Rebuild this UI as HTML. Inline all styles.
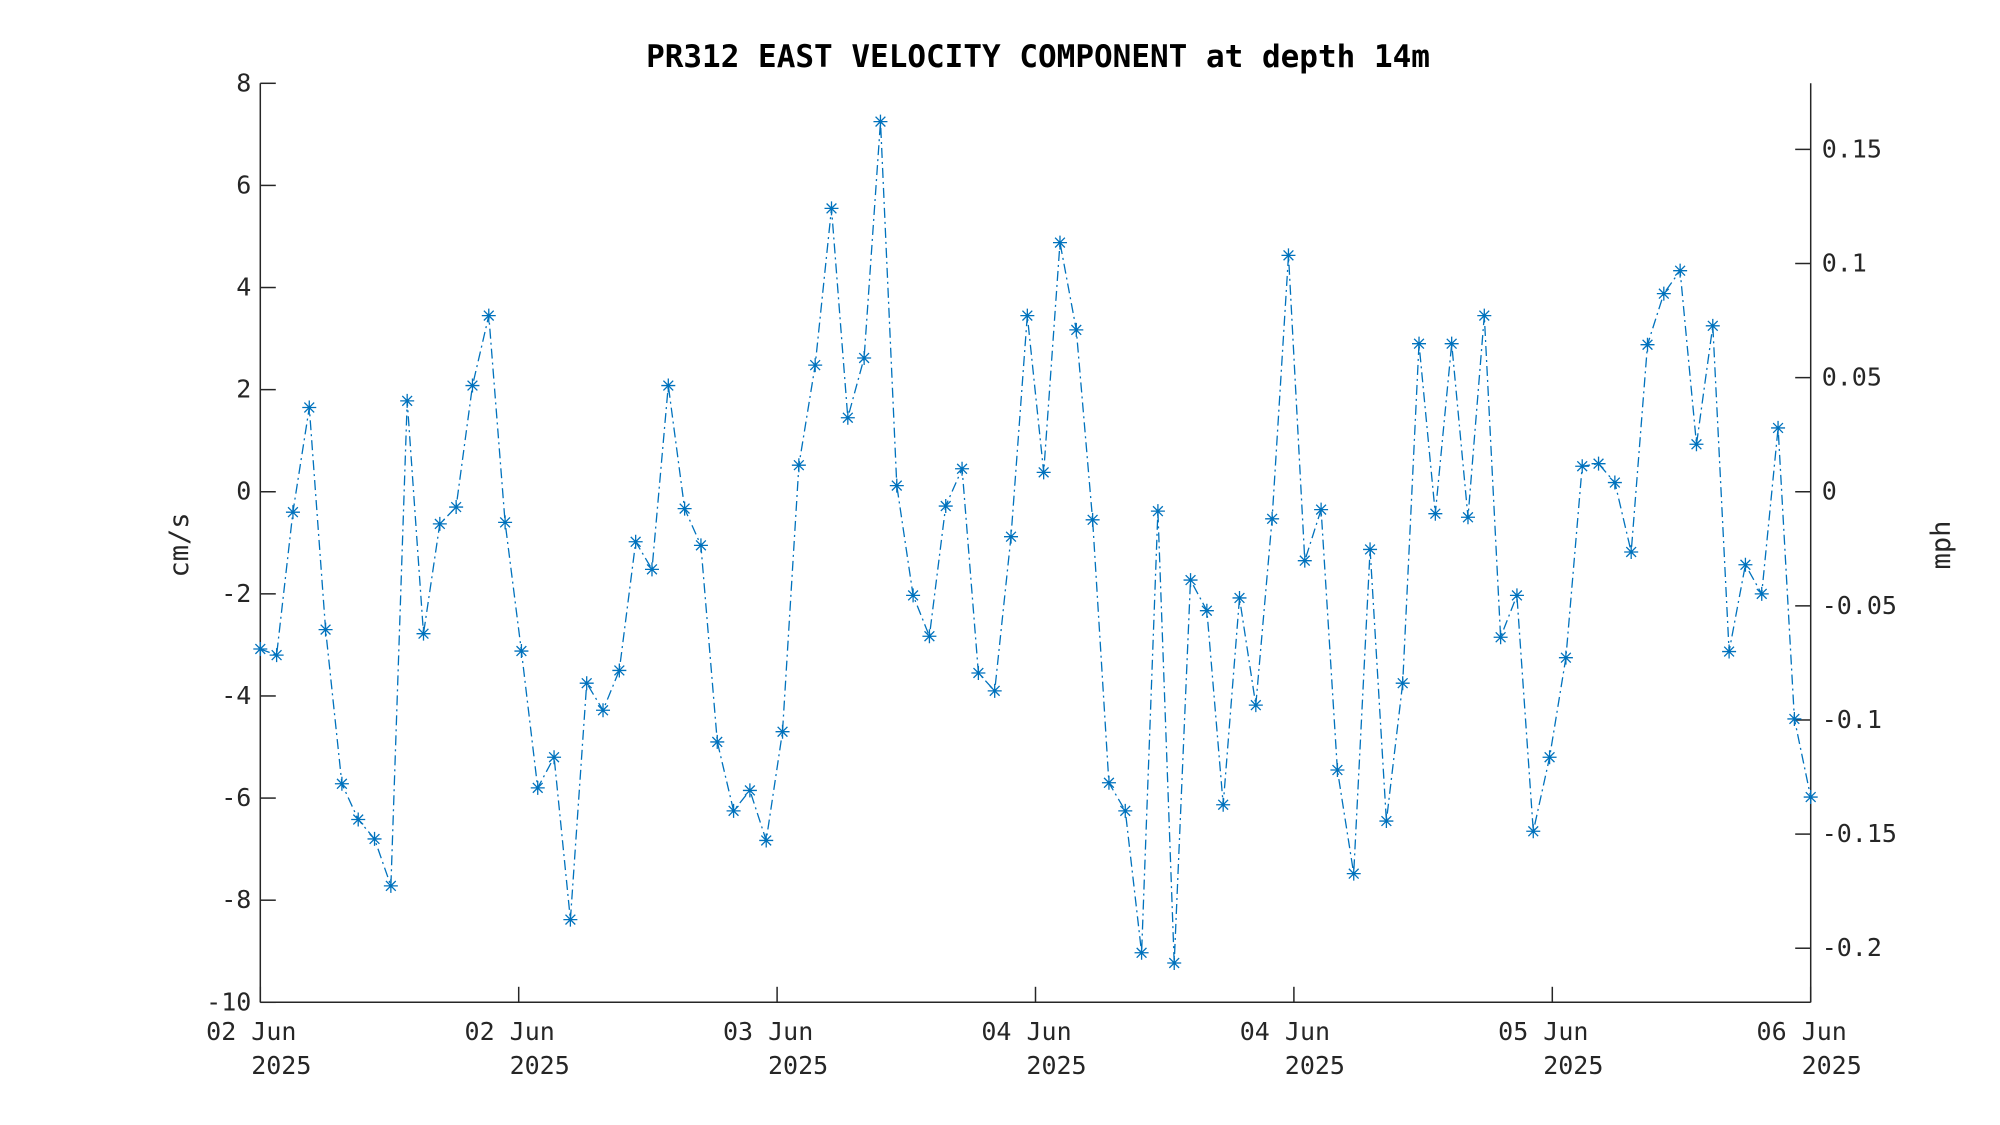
<!DOCTYPE html>
<html><head><meta charset="utf-8"><style>
html,body{margin:0;padding:0;background:#fff;}
svg{display:block;font-family:"DejaVu Sans Mono","Liberation Mono",monospace;}
</style></head><body>
<svg id="chart" width="2000" height="1125" viewBox="0 0 2000 1125" xmlns="http://www.w3.org/2000/svg">
<rect width="2000" height="1125" fill="#fff"/>
<text x="1038" y="67" text-anchor="middle" font-size="31" font-weight="bold" fill="#000">PR312 EAST VELOCITY COMPONENT at depth 14m</text>
<g id="axes"></g>
<g id="series"></g>
</svg>
<script>
const values = [-3.08,-3.2,-0.4,1.65,-2.7,-5.72,-6.42,-6.8,-7.72,1.78,-2.78,-0.63,-0.3,2.08,3.45,-0.6,-3.12,-5.8,-5.2,-8.38,-3.75,-4.28,-3.5,-0.98,-1.52,2.08,-0.33,-1.05,-4.9,-6.25,-5.85,-6.83,-4.7,0.52,2.48,5.55,1.45,2.62,7.25,0.12,-2.03,-2.83,-0.28,0.45,-3.55,-3.9,-0.88,3.45,0.38,4.88,3.17,-0.55,-5.7,-6.25,-9.03,-0.38,-9.23,-1.73,-2.33,-6.13,-2.08,-4.18,-0.53,4.63,-1.35,-0.35,-5.45,-7.48,-1.13,-6.45,-3.75,2.9,-0.43,2.9,-0.5,3.45,-2.85,-2.03,-6.65,-5.2,-3.25,0.5,0.55,0.18,-1.18,2.88,3.88,4.33,0.93,3.25,-3.13,-1.43,-2.0,1.25,-4.45,-5.98];
const yTicks = [-10,-8,-6,-4,-2,0,2,4,6,8];
const mphTicks = [-0.2,-0.15,-0.1,-0.05,0,0.05,0.1,0.15];
const xTickLabels = ["02 Jun","02 Jun","03 Jun","04 Jun","04 Jun","05 Jun","06 Jun"];
const xYearLabels = ["2025","2025","2025","2025","2025","2025","2025"];

const L=260.3,R=1810.7,T=83.3,B=1002.3,YMIN=-10,YMAX=8,MPH=0.0223694;
const NS="http://www.w3.org/2000/svg";
const xIdx=i=>L+(R-L)*i/(values.length-1);
const xTick=i=>L+(R-L)*i/(xTickLabels.length-1);
const y=v=>B-(v-YMIN)/(YMAX-YMIN)*(B-T);
function mk(tag,attrs,parent,txt){const e=document.createElementNS(NS,tag);for(const k in attrs)e.setAttribute(k,attrs[k]);if(txt!==undefined)e.textContent=txt;parent.appendChild(e);return e;}
const ax=document.getElementById('axes');
const se=document.getElementById('series');

let e=mk('line',{x1:L,y1:T,x2:L,y2:B,stroke:'#262626','stroke-width':1.5},ax);


e=mk('line',{x1:R,y1:T,x2:R,y2:B,stroke:'#262626','stroke-width':1.5},ax);


e=mk('line',{x1:L,y1:B,x2:R,y2:B,stroke:'#262626','stroke-width':1.5},ax);



yTicks.forEach(v=>{
  const yy=y(v);
  const t=mk('line',{x1:L,y1:yy,x2:L+15.5,y2:yy,stroke:'#262626','stroke-width':1.5},ax);
  
  
  const lb=mk('text',{x:L-9,y:yy+8,'text-anchor':'end','font-size':25,fill:'#262626'},ax,String(v));
  
  
});
mphTicks.forEach(m=>{
  const yy=y(m/MPH);
  const t=mk('line',{x1:R-15.5,y1:yy,x2:R,y2:yy,stroke:'#262626','stroke-width':1.5},ax);
  
  
  const lb=mk('text',{x:R+(m<0?11:11),y:yy+8,'font-size':25,fill:'#262626'},ax,String(m));
  
  
});
xTickLabels.forEach((s,i)=>{
  const xx=xTick(i);
  const t=mk('line',{x1:xx,y1:B,x2:xx,y2:B-15.5,stroke:'#262626','stroke-width':1.5},ax);
  
  
  const lb=mk('text',{x:xx-9,y:1040,'text-anchor':'middle','font-size':25,fill:'#262626'},ax,s);
  
  
  const yr=mk('text',{x:xx+21,y:1074,'text-anchor':'middle','font-size':25,fill:'#262626'},ax,xYearLabels[i]);
  
  
});
e=mk('text',{x:0,y:0,transform:'translate(188,545) rotate(-90)','text-anchor':'middle','font-size':27,fill:'#262626'},ax,'cm/s');


e=mk('text',{x:0,y:0,transform:'translate(1950,545) rotate(-90)','text-anchor':'middle','font-size':27,fill:'#262626'},ax,'mph');



const pts=values.map((v,i)=>xIdx(i).toFixed(1)+','+y(v).toFixed(1)).join(' ');
e=mk('polyline',{points:pts,fill:'none',stroke:'#0072BD','stroke-width':1.3,'stroke-dasharray':'10,4,2,4'},se);


values.forEach((v,i)=>{
  const cx=xIdx(i),cy=y(v),r=7;
  const d=`M${cx-r},${cy}H${cx+r}M${cx},${cy-r}V${cy+r}M${cx-r*0.7},${cy-r*0.7}L${cx+r*0.7},${cy+r*0.7}M${cx-r*0.7},${cy+r*0.7}L${cx+r*0.7},${cy-r*0.7}`;
  const m=mk('path',{d:d,stroke:'#0072BD','stroke-width':1.3,fill:'none'},se);
  
  
});
</script>
</body></html>
